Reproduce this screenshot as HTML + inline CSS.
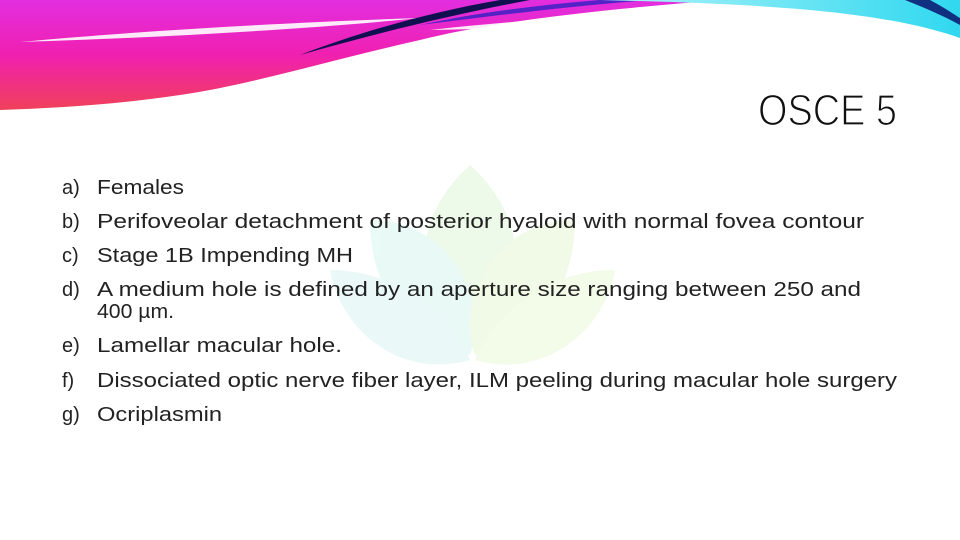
<!DOCTYPE html>
<html><head><meta charset="utf-8"><style>
html,body{margin:0;padding:0;background:#fff;}
svg{display:block;}
text{font-family:"Liberation Sans",sans-serif;fill:#222;}
</style></head><body>
<svg width="960" height="540" viewBox="0 0 960 540">
<defs>
<linearGradient id="mag" x1="0" y1="0" x2="0" y2="1">
<stop offset="0" stop-color="#e22ee0"/><stop offset="0.5" stop-color="#f020b0"/><stop offset="1" stop-color="#f0405a"/>
</linearGradient>
<linearGradient id="cy" x1="0" y1="0" x2="1" y2="0">
<stop offset="0" stop-color="#b0f4f8"/><stop offset="1" stop-color="#30d8f0"/>
</linearGradient>
</defs>
<g opacity="0.55">
<path d="M470 165 C520 210 540 280 470 350 C400 280 420 210 470 165Z" fill="#dff5d8"/>
<path d="M370 220 C450 220 490 300 470 355 C400 340 370 280 370 220Z" fill="#d8f6f0"/>
<path d="M575 220 C495 220 455 300 475 355 C545 340 575 280 575 220Z" fill="#e6f7d4"/>
<path d="M330 270 C410 270 460 330 470 360 C400 380 340 330 330 270Z" fill="#dcf4f4"/>
<path d="M615 270 C535 270 485 330 475 360 C545 380 605 330 615 270Z" fill="#eaf8d8"/>
</g>
<g>
<path d="M0 0 L720 0 C600 10 500 20 420 40 C330 60 250 85 180 95 C120 104 60 108 0 110 Z" fill="url(#mag)"/>
<path d="M20 42 C150 30 300 22 420 18 C300 30 150 38 20 42Z" fill="#fff" opacity="0.9"/>
<path d="M430 30 C520 20 600 15 700 12 C600 25 520 28 430 30Z" fill="#fff" opacity="0.9"/>
<path d="M300 55 C360 32 430 12 500 0 L530 0 C450 15 370 35 300 55Z" fill="#101050"/>
<path d="M420 25 C480 12 540 5 600 0 L650 0 C570 6 500 15 420 25Z" fill="#3020c0" opacity="0.8"/>
<path d="M600 0 L960 0 L960 38 C880 10 760 4 600 0Z" fill="url(#cy)"/>
<path d="M905 0 L930 0 C945 8 955 15 960 18 L960 25 C940 14 920 6 905 0Z" fill="#103080"/>
</g>
<text x="758" y="125" font-size="44" textLength="139" lengthAdjust="spacingAndGlyphs" stroke="#fff" stroke-width="1.3" paint-order="normal" style="fill:#111">OSCE 5</text>
<g font-size="20">
<text x="62" y="194">a)</text>
<text x="97" y="194" textLength="87" lengthAdjust="spacingAndGlyphs">Females</text>
<text x="62" y="228">b)</text>
<text x="97" y="228" textLength="767" lengthAdjust="spacingAndGlyphs">Perifoveolar detachment of posterior hyaloid with normal fovea contour</text>
<text x="62" y="262">c)</text>
<text x="97" y="262" textLength="256" lengthAdjust="spacingAndGlyphs">Stage 1B Impending MH</text>
<text x="62" y="296">d)</text>
<text x="97" y="296" textLength="764" lengthAdjust="spacingAndGlyphs">A medium hole is defined by an aperture size ranging between 250 and</text>
<text x="97" y="318" textLength="77" lengthAdjust="spacingAndGlyphs">400 µm.</text>
<text x="62" y="352">e)</text>
<text x="97" y="352" textLength="245" lengthAdjust="spacingAndGlyphs">Lamellar macular hole.</text>
<text x="62" y="387">f)</text>
<text x="97" y="387" textLength="800" lengthAdjust="spacingAndGlyphs">Dissociated optic nerve fiber layer, ILM peeling during macular hole surgery</text>
<text x="62" y="421">g)</text>
<text x="97" y="421" textLength="125" lengthAdjust="spacingAndGlyphs">Ocriplasmin</text>
</g>
</svg>
</body></html>
